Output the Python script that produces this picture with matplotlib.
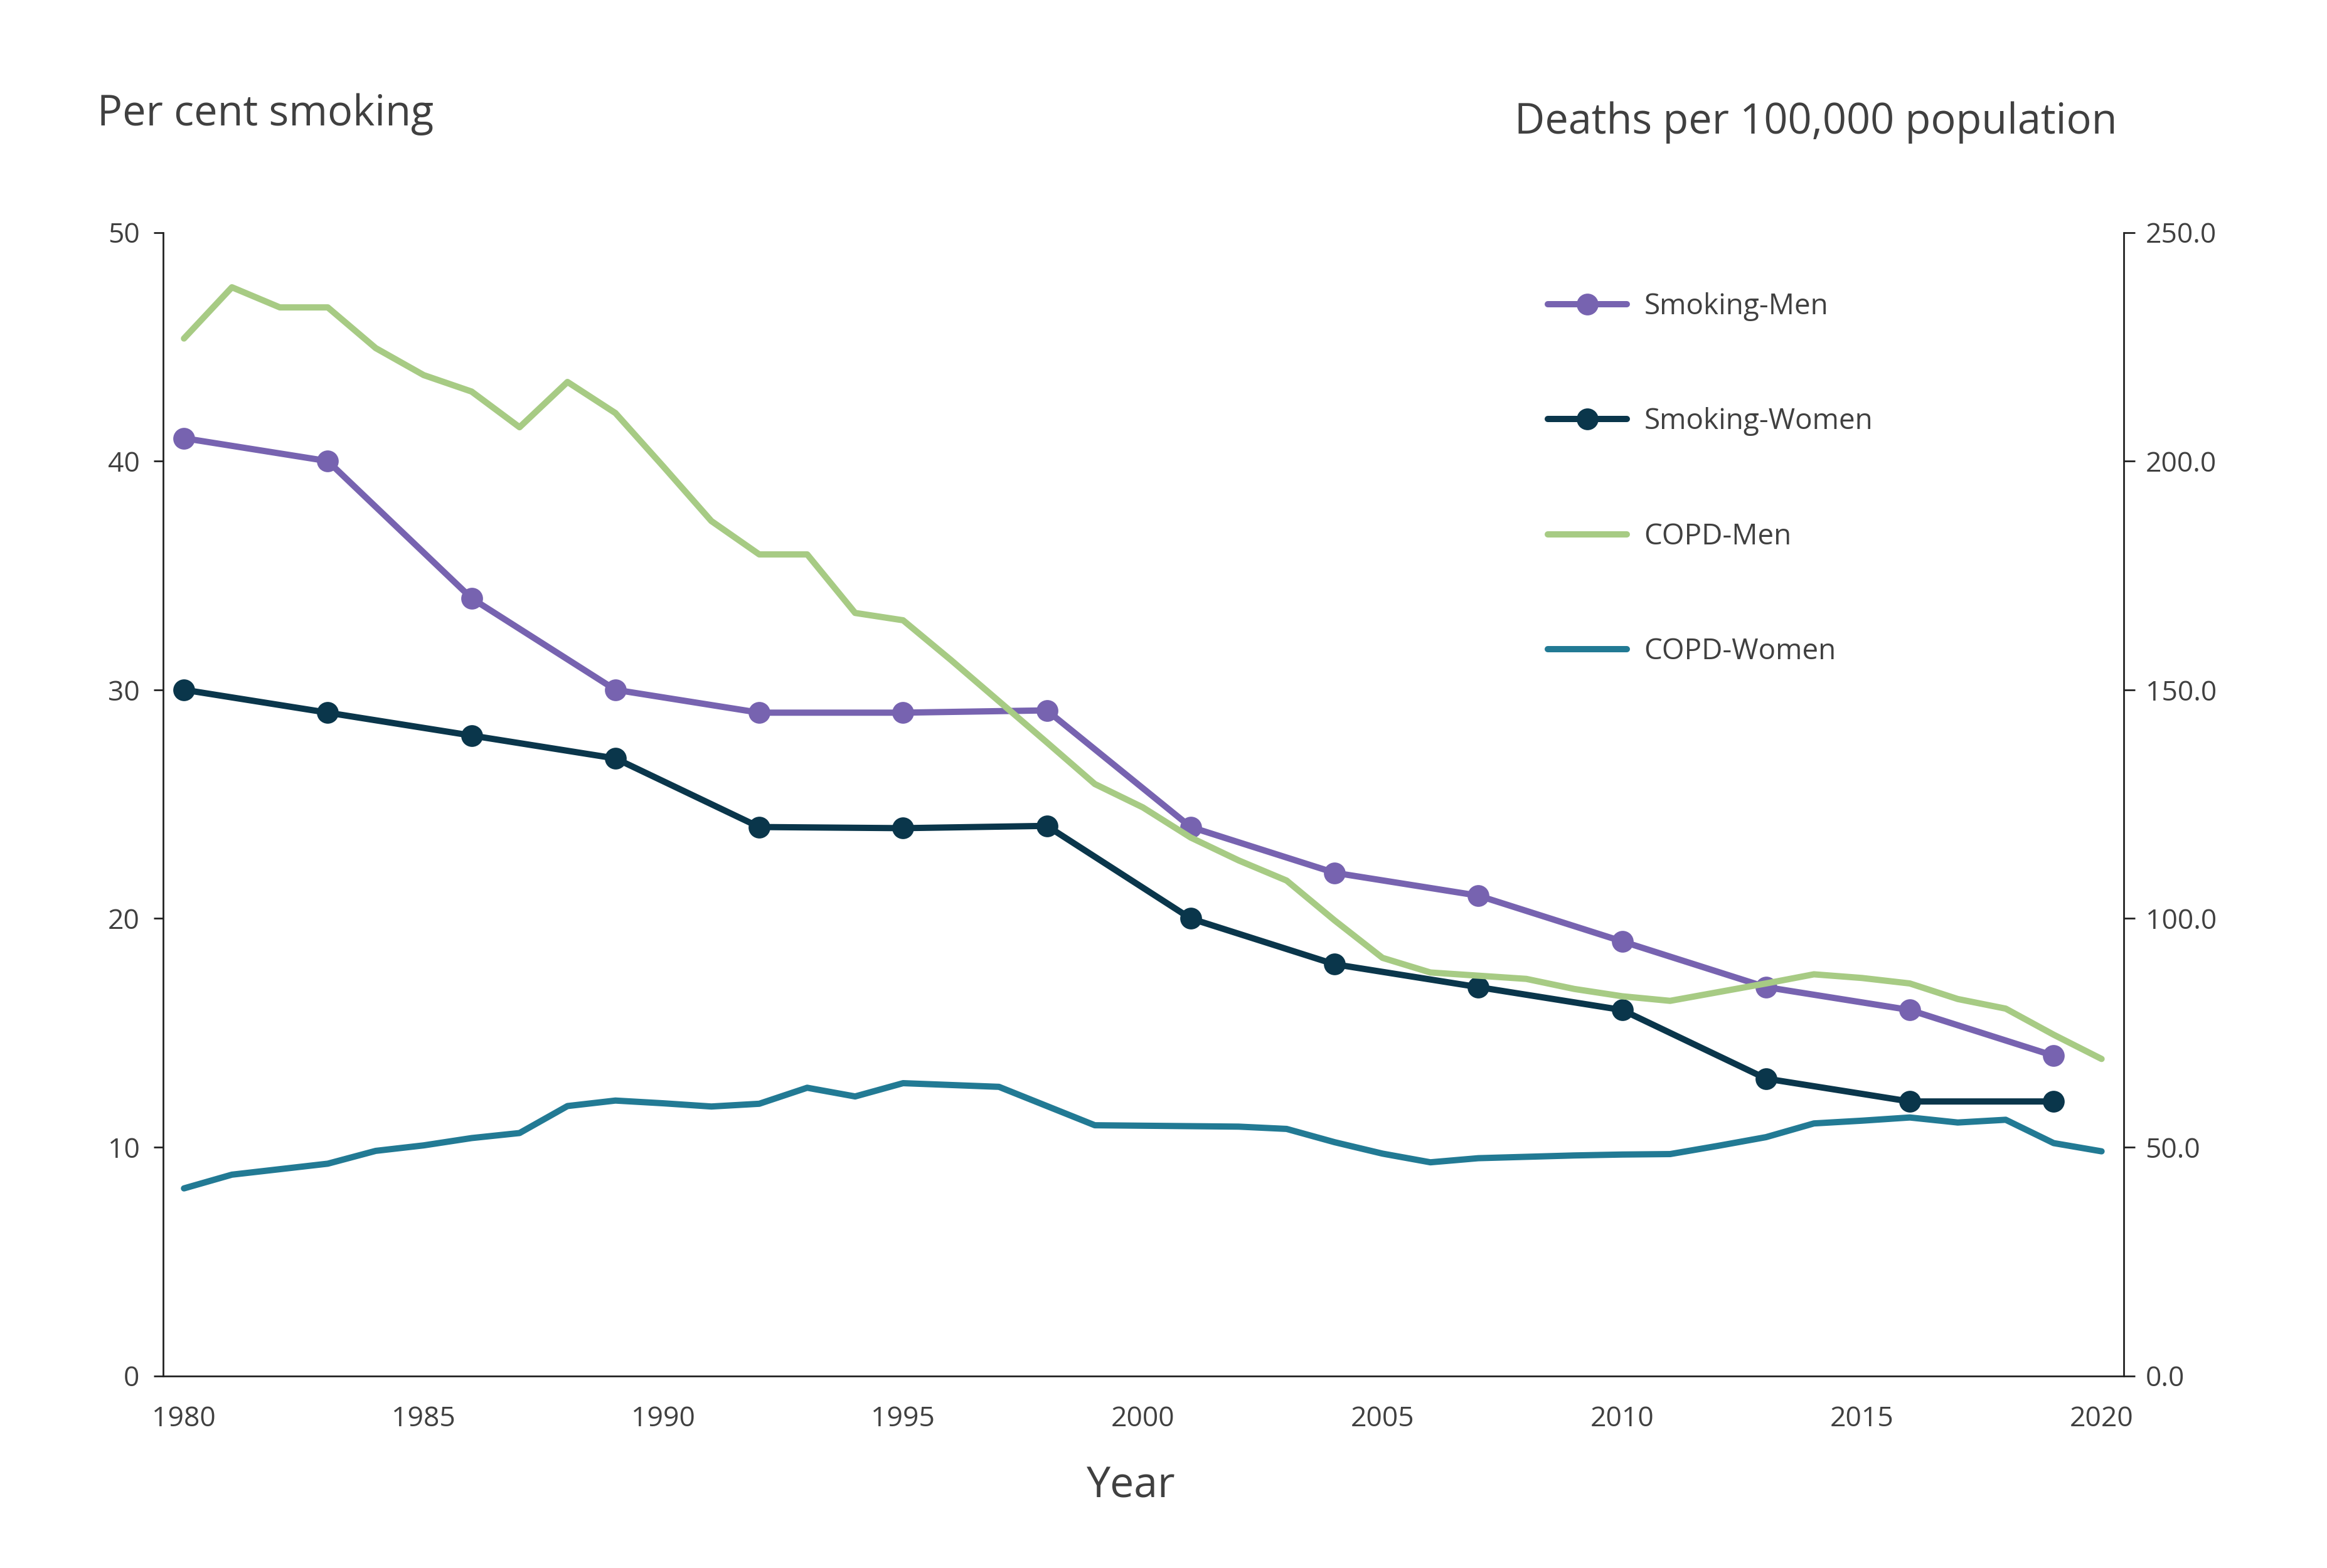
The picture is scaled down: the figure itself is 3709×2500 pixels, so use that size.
import matplotlib
matplotlib.use("Agg")
import matplotlib.pyplot as plt
from matplotlib.ticker import FuncFormatter

plt.rcParams['font.family'] = ['Open Sans', 'DejaVu Sans']

# ---- data ----
smoking_years = [1980, 1983, 1986, 1989, 1992, 1995, 1998, 2001, 2004, 2007, 2010, 2013, 2016, 2019]
smoking_men = [41.0, 40.0, 34.0, 30.0, 29.0, 29.0, 29.1, 24.0, 22.0, 21.0, 19.0, 17.0, 16.0, 14.0]
smoking_women = [30.0, 29.0, 28.0, 27.0, 24.0, 23.95, 24.05, 20.0, 18.0, 17.0, 16.0, 13.0, 12.0, 12.0]

copd_years = list(range(1980, 2021))
copd_men = [226.8, 238.0, 233.6, 233.6, 224.7, 218.8, 215.2, 207.4, 217.3, 210.5,
            198.8, 186.9, 179.6, 179.6, 166.8, 165.2, 156.5, 147.5, 138.5, 129.4,
            124.3, 117.7, 112.7, 108.3, 99.6, 91.4, 88.2, 87.5, 86.8, 84.6,
            83.0, 82.0, 83.9, 85.8, 87.8, 87.0, 85.8, 82.4, 80.3, 74.6, 69.3]
copd_women = [41.0, 44.0, 45.2, 46.4, 49.2, 50.4, 52.0, 53.1, 59.0, 60.2,
              59.6, 58.9, 59.5, 63.0, 61.1, 64.0, 63.6, 63.2, 59.0, 54.8,
              54.7, 54.6, 54.5, 54.0, 51.1, 48.6, 46.7, 47.6, 47.9, 48.2,
              48.4, 48.5, 50.3, 52.2, 55.2, 55.8, 56.5, 55.4, 56.0, 50.9, 49.1]

left_ticks = [0, 10, 20, 30, 40, 50]
right_ticks = [0, 50, 100, 150, 200, 250]
x_ticks = [1980, 1985, 1990, 1995, 2000, 2005, 2010, 2015, 2020]

labels = ['Smoking-Men', 'Smoking-Women', 'COPD-Men', 'COPD-Women']
colors = ['#7763B0', '#0A364B', '#A7CB84', '#227A94']

TEXT = '#404040'

fig = plt.figure(figsize=(18.545, 12.5), dpi=200)
ax = fig.add_axes([0.0701, 0.1225, 0.8425, 0.7293])
ax2 = ax.twinx()

lw = 3.6
ms = 11.5
h1, = ax.plot(smoking_years, smoking_men, color=colors[0], lw=lw, marker='o', ms=ms,
              solid_capstyle='round', label=labels[0])
h2, = ax.plot(smoking_years, smoking_women, color=colors[1], lw=lw, marker='o', ms=ms,
              solid_capstyle='round', label=labels[1])
h3, = ax2.plot(copd_years, copd_men, color=colors[2], lw=lw, solid_capstyle='round', label=labels[2])
h4, = ax2.plot(copd_years, copd_women, color=colors[3], lw=lw, solid_capstyle='round', label=labels[3])

ax.set_xlim(1979.565, 2020.46)
ax.set_ylim(0, 50)
ax2.set_ylim(0, 250)

ax.set_xticks(x_ticks)
ax.set_yticks(left_ticks)
ax2.set_yticks(right_ticks)
ax2.yaxis.set_major_formatter(FuncFormatter(lambda v, p: f'{v:.1f}'))

for a in (ax, ax2):
    a.spines['top'].set_visible(False)
    for s in a.spines.values():
        s.set_linewidth(1.0)
        s.set_color('#222222')
ax.spines['right'].set_visible(False)
ax2.spines['left'].set_visible(False)
ax2.spines['bottom'].set_visible(False)

ax.tick_params(axis='x', length=0, pad=17, labelsize=16, labelcolor=TEXT)
ax.tick_params(axis='y', length=5.5, width=1.0, pad=8, labelsize=16, labelcolor=TEXT, color='#222222')
ax2.tick_params(axis='y', length=6.5, width=1.0, pad=6, labelsize=16, labelcolor=TEXT, color='#222222')

fig.text(0.4861, 0.0452, 'Year', fontsize=24.5, color=TEXT, ha='center', va='baseline')

fig.text(0.0418, 0.92, 'Per cent smoking', fontsize=24, color=TEXT, ha='left', va='baseline')
fig.text(0.9097, 0.9148, 'Deaths per 100,000 population', fontsize=24, color=TEXT, ha='right', va='baseline')

leg = fig.legend(handles=[h1, h2, h3, h4], loc='center left', bbox_to_anchor=(0.6651, 0.6944),
                 frameon=False, fontsize=16.5, handlelength=2.75, handletextpad=0.6,
                 labelspacing=3.0, borderaxespad=0, borderpad=0)
for t in leg.get_texts():
    t.set_color(TEXT)

fig.savefig('out.png', dpi=200)
